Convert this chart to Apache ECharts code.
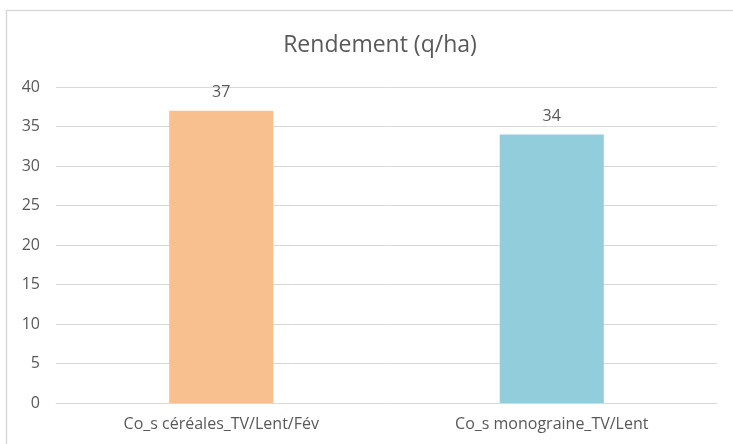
<!DOCTYPE html>
<html>
<head>
<meta charset="utf-8">
<script src="https://cdn.jsdelivr.net/npm/echarts@6/dist/echarts.min.js"></script>
<style>
  html, body { margin: 0; padding: 0; background: #fff; }
  #main { width: 733px; height: 444px; }
</style>
</head>
<body>
<div id="main"></div>
<script>
var categories = ['Co_s céréales_TV/Lent/Fév', 'Co_s monograine_TV/Lent'];
var values = [37, 34];
var barColors = ['#F9C08F', '#92CDDC'];

var myChart = echarts.init(document.getElementById('main'));
var txt = '#595959';
var font = 'Open Sans';

option = {
    animation: false,
    backgroundColor: '#fff',
    title: {
        text: 'Rendement (q/ha)',
        left: 375,
        textAlign: 'center',
        top: 29,
        textStyle: { color: txt, fontSize: 23, fontWeight: 'normal', fontFamily: font }
    },
    graphic: [{
        type: 'rect',
        shape: { x: 6.5, y: 10.5, width: 740, height: 450 },
        style: { fill: 'none', stroke: '#d9d9d9', lineWidth: 1.5 },
        z: -1
    }],
    grid: { left: 56, right: 16, top: 87, bottom: 41 },
    xAxis: {
        type: 'category',
        data: categories,
        axisLine: { lineStyle: { color: '#d9d9d9' } },
        axisTick: { show: false },
        axisLabel: { color: txt, fontSize: 16, fontFamily: font, margin: 13 }
    },
    yAxis: {
        type: 'value',
        min: 0,
        max: 40,
        interval: 5,
        axisLine: { show: false },
        axisTick: { show: false },
        axisLabel: { color: txt, fontSize: 16, fontFamily: font, margin: 16 },
        splitLine: { lineStyle: { color: '#d9d9d9' } }
    },
    series: [{
        type: 'bar',
        barWidth: '31.5%',
        data: values.map(function (v, i) {
            return { value: v, itemStyle: { color: barColors[i] } };
        }),
        label: {
            show: true,
            position: 'top',
            distance: 10,
            color: txt,
            fontSize: 16,
            fontFamily: font
        }
    }]
};

myChart.setOption(option);
</script>
</body>
</html>
